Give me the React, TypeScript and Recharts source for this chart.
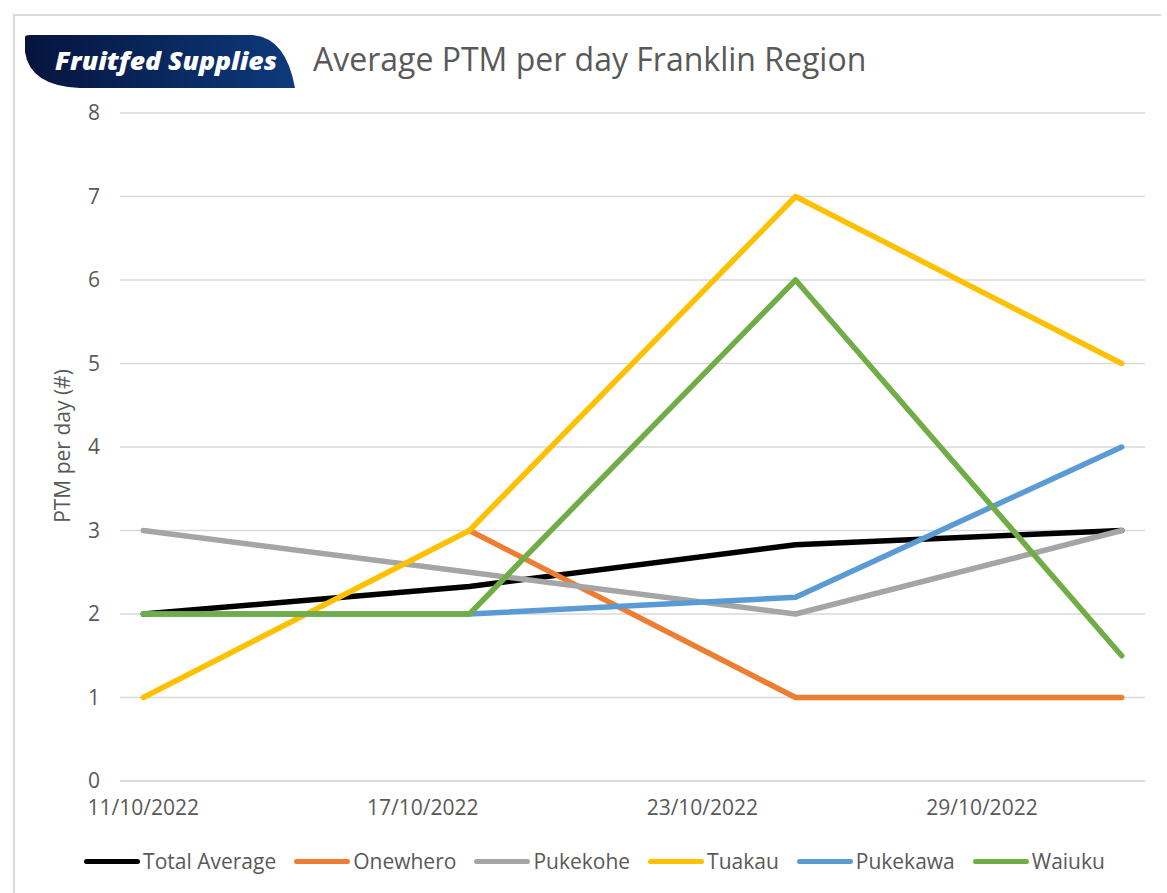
import React from "react";
import { LineChart, Line, XAxis, YAxis, CartesianGrid, Legend } from "recharts";

const TEXT = "#595959";
const GRID = "#d9d9d9";
const FONT = "'Open Sans', 'Liberation Sans', sans-serif";

// data points (weekly) and the axis tick dates (every 6 days)
const pointDates = ["11/10/2022", "18/10/2022", "25/10/2022", "01/11/2022"];
const tickDates = ["11/10/2022", "17/10/2022", "23/10/2022", "29/10/2022"];

const totalAverage = [2, 2.33, 2.83, 3];
const onewhero = [null, 3, 1, 1];
const pukekohe = [3, 2.5, 2, 3];
const tuakau = [1, 3, 7, 5];
const pukekawa = [2, 2, 2.2, 4];
const waiuku = [2, 2, 6, 1.5];

const yTicks = [0, 1, 2, 3, 4, 5, 6, 7, 8];

const series = [
  { key: "totalAverage", name: "Total Average", color: "#000000", values: totalAverage },
  { key: "onewhero", name: "Onewhero", color: "#ED7D31", values: onewhero },
  { key: "pukekohe", name: "Pukekohe", color: "#A5A5A5", values: pukekohe },
  { key: "tuakau", name: "Tuakau", color: "#FFC000", values: tuakau },
  { key: "pukekawa", name: "Pukekawa", color: "#5B9BD5", values: pukekawa },
  { key: "waiuku", name: "Waiuku", color: "#70AD47", values: waiuku },
];

const DAY = 24 * 3600 * 1000;
const toDay = (s: string) => {
  const [d, m, y] = s.split("/").map(Number);
  return Math.round((Date.UTC(y, m - 1, d) - Date.UTC(2022, 9, 11)) / DAY);
};
const fmt = (day: number) => {
  const dt = new Date(Date.UTC(2022, 9, 11) + day * DAY);
  const dd = String(dt.getUTCDate()).padStart(2, "0");
  const mm = String(dt.getUTCMonth() + 1).padStart(2, "0");
  return `${dd}/${mm}/${dt.getUTCFullYear()}`;
};

const data = pointDates.map((d, i) => {
  const row: Record<string, number | null> = { day: toDay(d) };
  series.forEach((s) => (row[s.key] = s.values[i]));
  return row;
});

const LegendRow = () => (
  <div style={{ display: "flex", justifyContent: "center", alignItems: "center", fontFamily: FONT, fontSize: 21, color: TEXT, paddingLeft: 24 }}>
    {series.map((s, i) => (
      <div key={s.key} style={{ display: "flex", alignItems: "center", marginRight: i < series.length - 1 ? 18 : 0 }}>
        <span style={{ display: "inline-block", width: 56, height: 5, borderRadius: 3, background: s.color, marginRight: 3 }} />
        <span>{s.name}</span>
      </div>
    ))}
  </div>
);

export default function App() {
  return (
    <div style={{ position: "absolute", left: 0, top: 0, width: 1167, height: 893, background: "#fff", overflow: "hidden" }}>
      <div style={{ position: "absolute", left: 13, top: 14, width: 1146, height: 900, borderLeft: `2px solid ${GRID}`, borderTop: `2px solid ${GRID}` }} />
      <svg style={{ position: "absolute", left: 0, top: 0 }} width={300} height={100}>
        <defs>
          <linearGradient id="logoGrad" x1="0" x2="1" y1="0" y2="0">
            <stop offset="0" stopColor="#06143d" />
            <stop offset="1" stopColor="#0d3a7c" />
          </linearGradient>
        </defs>
        <path d="M25,37 Q25,35 30,35 L252,35 Q286,37 295,88 L80,88 Q30,86 25,52 Z" fill="url(#logoGrad)" />
        <text x={55} y={70} textLength={222} lengthAdjust="spacingAndGlyphs" fill="#fff" fontFamily={FONT} fontWeight={800} fontStyle="italic" fontSize={25}>
          Fruitfed Supplies
        </text>
      </svg>
      <div style={{ position: "absolute", left: 313, top: 37, fontFamily: FONT, fontSize: 32, color: TEXT, whiteSpace: "nowrap" }}>
        Average PTM per day Franklin Region
      </div>
      <div style={{ position: "absolute", left: 62, top: 446, transform: "translate(-50%, -50%) rotate(-90deg)", fontFamily: FONT, fontSize: 21, color: TEXT, whiteSpace: "nowrap" }}>
        PTM per day (#)
      </div>
      <LineChart width={1167} height={893} data={data} margin={{ top: 113, right: 22, left: 20, bottom: 0 }}>
        <CartesianGrid stroke={GRID} strokeWidth={1.5} vertical={false} />
        <XAxis
          dataKey="day"
          type="number"
          domain={[-0.5, 21.5]}
          ticks={tickDates.map(toDay)}
          tickFormatter={fmt}
          axisLine={{ stroke: GRID, strokeWidth: 1.5 }}
          tickLine={false}
          tickSize={0}
          tickMargin={19}
          height={84}
          tick={{ fill: TEXT, fontSize: 21, fontFamily: FONT }}
        />
        <YAxis
          domain={[0, 8]}
          ticks={yTicks}
          axisLine={false}
          tickLine={false}
          tickSize={0}
          tickMargin={20}
          width={100}
          tick={{ fill: TEXT, fontSize: 21, fontFamily: FONT }}
        />
        <Legend verticalAlign="bottom" content={() => <LegendRow />} wrapperStyle={{ bottom: 18 }} />
        {series.map((s) => (
          <Line
            key={s.key}
            dataKey={s.key}
            name={s.name}
            stroke={s.color}
            strokeWidth={5.5}
            strokeLinecap="round"
            strokeLinejoin="round"
            dot={false}
            activeDot={false}
            connectNulls={false}
            type="linear"
            isAnimationActive={false}
          />
        ))}
      </LineChart>
    </div>
  );
}
